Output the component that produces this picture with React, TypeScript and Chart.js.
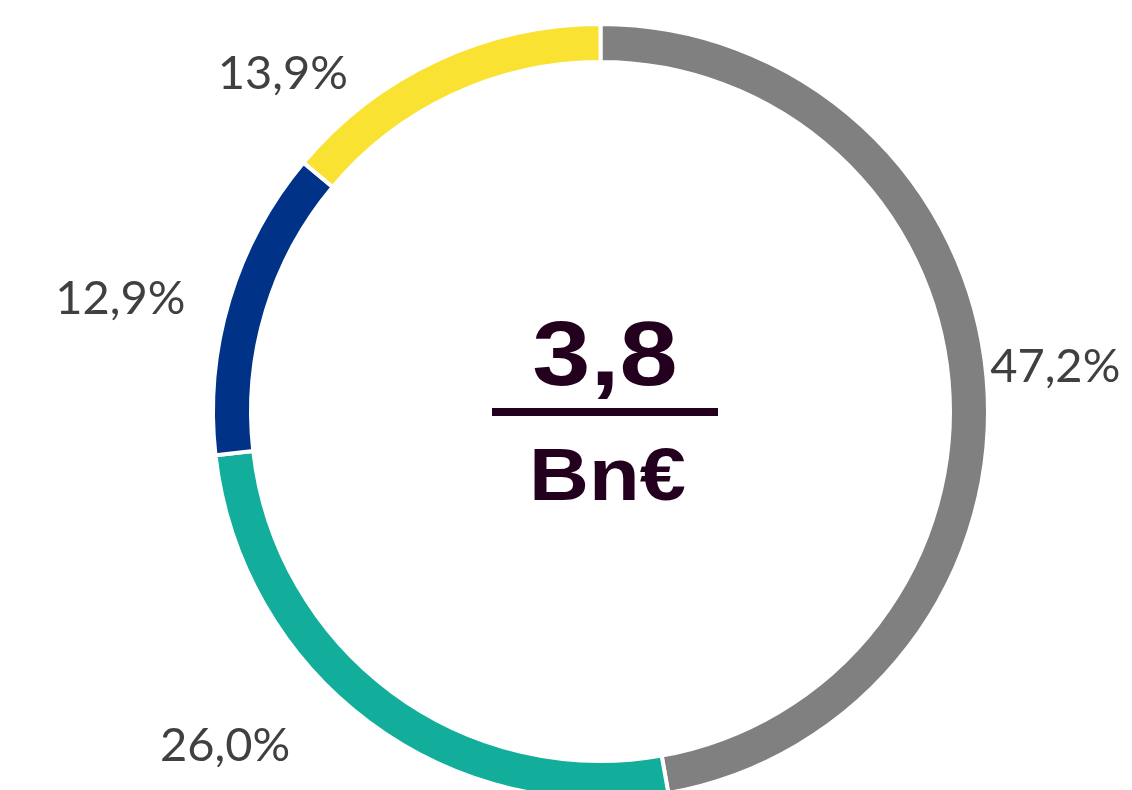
import React, { useEffect, useRef } from "react";
import { Chart, registerables } from "chart.js";

Chart.register(...registerables);

const categories = ["Grey", "Teal", "Navy", "Yellow"];
const shares = [47.2, 26.0, 12.9, 13.9];
const percentLabels = ["47,2%", "26,0%", "12,9%", "13,9%"];
const sliceColors = ["#808080", "#13AE9B", "#003387", "#F9E232"];
const centerValue = "3,8";
const centerUnit = "Bn€";

// label nudges (style only) relative to a radial anchor
const labelNudges = [
  [1, -5],
  [-103, -31],
  [-44, 19],
  [-125, 75],
];

const labelPlugin = {
  id: "outLabels",
  afterDatasetsDraw(chart: any) {
    const ctx = chart.ctx;
    const meta = chart.getDatasetMeta(0);
    ctx.save();
    ctx.font = '47px "Lato"';
    ctx.fillStyle = "#404040";
    ctx.textAlign = "center";
    ctx.textBaseline = "middle";
    meta.data.forEach((arc: any, i: number) => {
      const p = arc.getProps(["x", "y", "startAngle", "endAngle", "outerRadius"], true);
      const mid = (p.startAngle + p.endAngle) / 2;
      const r = p.outerRadius + 68;
      const x = p.x + Math.cos(mid) * r + labelNudges[i][0];
      const y = p.y + Math.sin(mid) * r + labelNudges[i][1];
      ctx.fillText(percentLabels[i], x, y);
    });
    ctx.restore();

    // center text
    const c = meta.data[0].getProps(["x", "y"], true);
    ctx.save();
    ctx.fillStyle = "#24001F";
    ctx.textAlign = "center";
    ctx.textBaseline = "alphabetic";
    const drawStretched = (text: string, font: string, cx: number, baseY: number, targetW: number) => {
      ctx.font = font;
      const m = ctx.measureText(text);
      const ink = m.actualBoundingBoxLeft + m.actualBoundingBoxRight;
      const sx = ink > 0 ? targetW / ink : 1;
      ctx.save();
      ctx.translate(cx, baseY);
      ctx.scale(sx, 1);
      ctx.fillText(text, 0, 0);
      ctx.restore();
    };
    drawStretched(centerValue, 'bold 91px "Liberation Sans"', c.x + 4.5, c.y - 26.5, 140);
    ctx.fillRect(c.x - 108.5, c.y - 3.5, 226, 8);
    drawStretched(centerUnit, 'bold 74px "Liberation Sans"', c.x + 7, c.y + 88.5, 151);
    ctx.restore();
  },
};

export default function App() {
  const ref = useRef<HTMLCanvasElement | null>(null);
  useEffect(() => {
    document.body.style.margin = "0";
    const chart = new Chart(ref.current as HTMLCanvasElement, {
      type: "doughnut",
      data: {
        labels: categories,
        datasets: [
          {
            data: shares,
            backgroundColor: sliceColors,
            borderColor: "#ffffff",
            borderWidth: 4,
            hoverOffset: 0,
          },
        ],
      },
      options: {
        responsive: false,
        animation: false,
        radius: 387.5,
        cutout: "90.19%",
        layout: { padding: { left: 215, right: 146, top: 26, bottom: 26 } },
        plugins: {
          legend: { display: false },
          tooltip: { enabled: false },
        },
      } as any,
      plugins: [labelPlugin],
    });
    return () => chart.destroy();
  }, []);
  return (
    <div style={{ position: "fixed", left: 0, top: 0, width: 1132, height: 790, overflow: "hidden", background: "#fff" }}>
      <canvas ref={ref} width={1132} height={823} style={{ display: "block", width: 1132, height: 823 }} />
    </div>
  );
}
